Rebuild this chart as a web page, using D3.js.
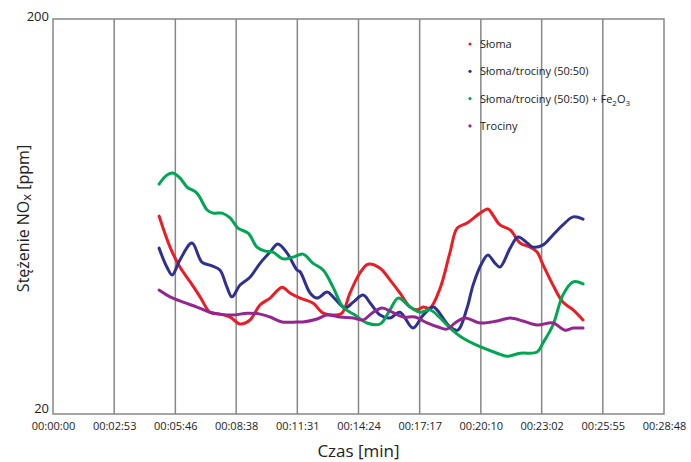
<!DOCTYPE html>
<html>
<head>
<meta charset="utf-8">
<script src="https://cdn.jsdelivr.net/npm/d3@7"></script>
<style>
  html, body { margin: 0; padding: 0; background: #fff; }
  svg { display: block; }
  text { font-family: "Open Sans", "Liberation Sans", sans-serif; fill: #222; }
</style>
</head>
<body>
<svg id="chart" width="691" height="462"></svg>
<script>
// Time axis labels (hh:mm:ss) and concentration ticks (ppm, log scale)
const xTickLabels = ["00:00:00","00:02:53","00:05:46","00:08:38","00:11:31","00:14:24",
                     "00:17:17","00:20:10","00:23:02","00:25:55","00:28:48"];
const yTickLabels = [20, 200];

// Seria: Słoma — czas [s], stężenie NOx [ppm]
const slomaT = [300,331,359,388,416,444,472,501,529,557,586,614,648,670,699,735,764,792,817,840,
                868,891,925,953,981,1010,1030,1047,1066,1095,1123,1143,1171,1208,1230,1244,1264,
                1293,1321,1349,1369,1386,1414,1442,1471,1499];
const slomaV = [63.4,52.9,47.1,43.2,39.6,36.2,35.8,35.2,33.8,34.6,37.8,39.3,41.9,40.5,39.3,38.2,36.0,35.6,36.0,40.5,
                45.5,47.9,46.8,43.7,40.5,37.3,36.7,37.3,37.1,41.7,51.4,59.1,60.9,64.5,66.1,63.8,60.2,
                58.5,54.2,52.9,51.4,47.7,42.4,38.4,36.7,34.6];

// Seria: Słoma/trociny (50:50)
const mieszT = [300,322,337,359,393,421,450,472,492,506,529,557,586,614,636,662,690,699,727,747,775,792,
                826,849,877,897,925,953,981,1018,1047,1075,1086,1123,1145,1171,1188,1213,1230,1250,1264,
                1293,1315,1341,1358,1386,1414,1442,1471,1499];
const mieszV = [52.6,47.1,45.0,49.1,54.2,48.5,47.4,46.3,41.9,39.6,42.4,44.4,48.2,51.4,53.9,51.1,46.3,45.8,40.5,39.3,40.7,39.6,
                37.1,38.4,40.0,38.2,35.6,35.0,36.2,33.0,35.6,37.3,36.7,33.2,32.6,37.1,42.4,48.2,50.5,48.2,47.1,
                52.6,56.1,54.2,52.9,53.6,56.8,60.2,63.1,62.3];

// Seria: Słoma/trociny (50:50) + Fe2O3
const fe2o3T = [300,322,339,359,379,407,436,453,478,501,523,552,577,600,622,651,679,707,735,764,792,
                820,854,888,925,953,976,1010,1038,1066,1095,1123,1160,1208,1256,1284,1321,1369,1386,
                1414,1442,1471,1499];
const fe2o3V = [76.4,80.5,81.5,79.2,75.1,72.5,65.7,64.5,64.5,62.7,59.1,57.4,52.9,51.7,51.4,49.4,49.9,50.8,48.2,46.3,41.9,
                37.3,35.6,34.0,33.8,36.7,39.3,37.3,36.2,36.7,35.0,33.0,31.1,29.6,28.5,28.0,28.5,28.7,30.3,
                33.6,40.0,43.2,42.7];

// Seria: Trociny
const trocinyT = [300,331,368,407,444,472,509,549,586,614,648,690,707,747,775,812,849,877,902,931,959,
                  990,1024,1058,1089,1114,1137,1165,1208,1256,1293,1329,1369,1414,1448,1471,1499];
const trocinyV = [41.2,39.6,38.4,37.3,36.2,35.8,35.6,36.0,35.8,35.2,34.2,34.2,34.2,34.8,35.6,35.2,35.0,34.6,36.0,37.1,36.2,
                  35.2,35.2,34.0,33.2,32.8,34.0,35.0,34.0,34.4,35.0,34.4,33.6,34.0,32.6,33.0,33.0];

const seriesNames = ["Słoma", "Słoma/trociny (50:50)", "Słoma/trociny (50:50) + Fe2O3", "Trociny"];
const seriesColors = ["#ed1c24", "#2e3192", "#00a651", "#93278f"];
const seriesT = [slomaT, mieszT, fe2o3T, trocinyT];
const seriesV = [slomaV, mieszV, fe2o3V, trocinyV];

const W = 691, H = 462;
const margin = {top: 19, right: 27, bottom: 48, left: 53};
const innerW = W - margin.left - margin.right;
const innerH = H - margin.top - margin.bottom;

const toSeconds = s => s.split(":").reduce((acc, p) => acc * 60 + (+p), 0);
const tickSecs = xTickLabels.map(toSeconds);

const svg = d3.select("#chart");
const g = svg.append("g").attr("transform", `translate(${margin.left},${margin.top})`);

const x = d3.scaleLinear().domain([0, 1728]).range([0, innerW]);
const y = d3.scaleLog().domain([20, 200]).range([innerH, 0]);

// Vertical grid lines at each time tick
g.append("g")
  .selectAll("line")
  .data(tickSecs.slice(1, -1))
  .join("line")
  .attr("x1", d => x(d)).attr("x2", d => x(d))
  .attr("y1", 0).attr("y2", innerH)
  .attr("stroke", "#878787").attr("stroke-width", 1.5);

// Plot frame
g.append("rect")
  .attr("x", 0).attr("y", 0).attr("width", innerW).attr("height", innerH)
  .attr("fill", "none").attr("stroke", "#878787").attr("stroke-width", 1.5);

// X axis labels
const xAxis = d3.axisBottom(x)
  .tickValues(tickSecs)
  .tickFormat((d, i) => xTickLabels[i])
  .tickSize(0).tickPadding(8);
const xg = g.append("g").attr("transform", `translate(0,${innerH})`).call(xAxis);
xg.select(".domain").remove();
xg.selectAll("text").attr("font-size", 11).attr("fill", "#222")
  .attr("font-family", "'Open Sans', sans-serif");

// Y axis labels
const yAxis = d3.axisLeft(y).tickValues(yTickLabels).tickFormat(d3.format("d"))
  .tickSize(0).tickPadding(4);
const yg = g.append("g").call(yAxis);
yg.select(".domain").remove();
yg.selectAll("text").attr("font-size", 13).attr("fill", "#222")
  .attr("font-family", "'Open Sans', sans-serif")
  .attr("dy", (d) => d === 200 ? "0.1em" : "-0.15em");

// Data lines
const line = d3.line()
  .x(d => x(d[0]))
  .y(d => y(d[1]))
  .curve(d3.curveCatmullRom.alpha(0.5));

seriesNames.forEach((name, i) => {
  const pts = seriesT[i].map((t, k) => [t, seriesV[i][k]]);
  g.append("path")
    .datum(pts)
    .attr("fill", "none")
    .attr("stroke", seriesColors[i])
    .attr("stroke-width", 3)
    .attr("stroke-linejoin", "round")
    .attr("stroke-linecap", "round")
    .attr("d", line);
});

// Legend
const legend = svg.append("g").attr("transform", "translate(470,44)");
seriesNames.forEach((name, i) => {
  const row = legend.append("g").attr("transform", `translate(0,${i * 27.3})`);
  row.append("circle").attr("cx", 0).attr("cy", 0).attr("r", 1.6).attr("fill", seriesColors[i]);
  const txt = row.append("text").attr("x", 10).attr("y", 4).attr("font-size", 11);
  if (name.endsWith("Fe2O3")) {
    txt.append("tspan").text("Słoma/trociny (50:50) + Fe");
    txt.append("tspan").attr("font-size", 8).attr("dy", 3).text("2");
    txt.append("tspan").attr("dy", -3).text("O");
    txt.append("tspan").attr("font-size", 8).attr("dy", 3).text("3");
  } else {
    txt.text(name);
  }
});

// Axis titles
svg.append("text")
  .attr("x", margin.left + innerW / 2).attr("y", 457)
  .attr("text-anchor", "middle").attr("font-size", 17)
  .text("Czas [min]");

const yTitle = svg.append("text")
  .attr("transform", `translate(29,${margin.top + innerH / 2 + 2}) rotate(-90)`)
  .attr("text-anchor", "middle").attr("font-size", 16);
yTitle.append("tspan").text("Stężenie NO");
yTitle.append("tspan").attr("font-size", 13).attr("dy", 2).text("x");
yTitle.append("tspan").attr("dy", -2).text(" [ppm]");
</script>
</body>
</html>
